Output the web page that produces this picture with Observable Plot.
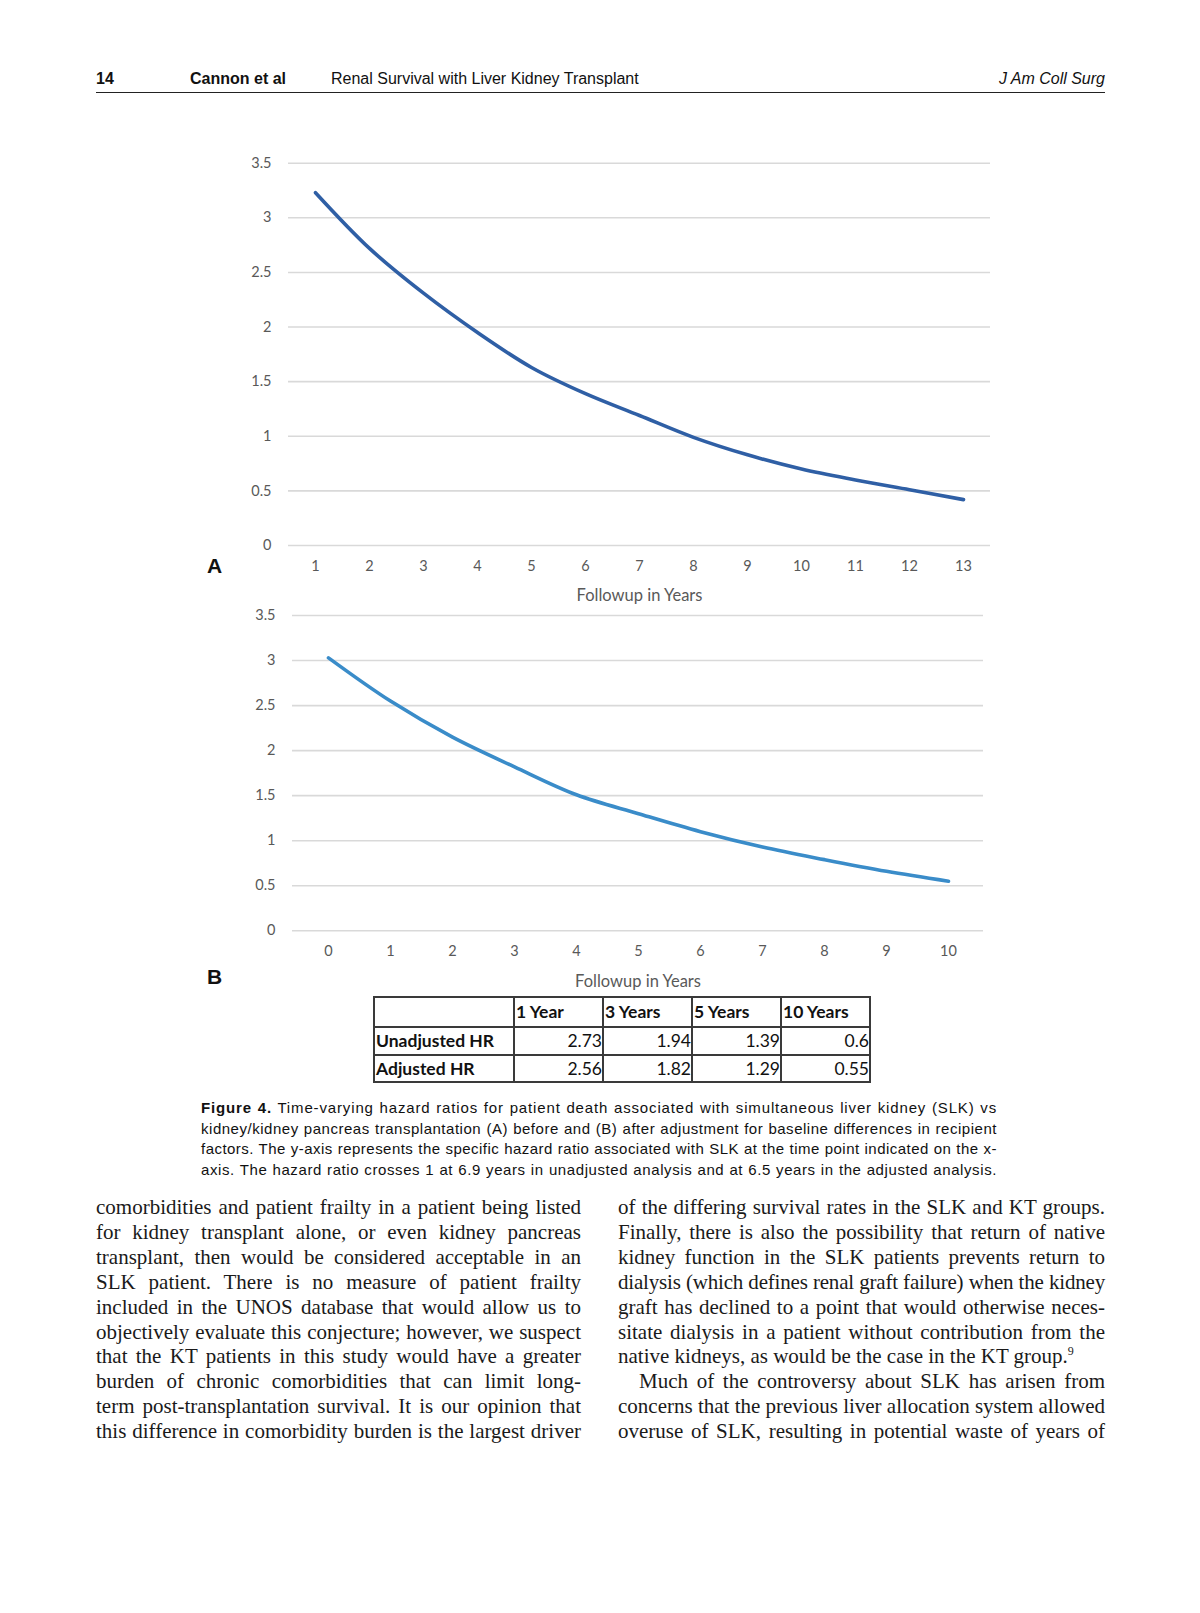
<!DOCTYPE html>
<html>
<head>
<meta charset="utf-8">
<script src="https://cdn.jsdelivr.net/npm/d3@7"></script>
<script src="https://cdn.jsdelivr.net/npm/@observablehq/plot@0.6"></script>
<style>
  html, body { margin: 0; padding: 0; background: #fff; }
  body { position: relative; width: 1200px; height: 1613px; overflow: hidden; }
  .abs { position: absolute; }
  .hdr { font-family: "Liberation Sans Narrow", "Liberation Sans", Arial, sans-serif; font-size: 16px; color: #111; top: 68px; line-height: 22px; white-space: nowrap; }
  .panel { font-family: "Liberation Sans", Arial, sans-serif; font-weight: bold; font-size: 21px; color: #111; }
  .cap { font-family: "Liberation Sans", Arial, sans-serif; font-size: 15px; color: #111; line-height: 20.6px; }
  .cap div, .col div { text-align: justify; text-align-last: justify; white-space: nowrap; }
  .col { font-family: "Liberation Serif", "Times New Roman", serif; font-size: 21px; color: #1a1a1a; line-height: 24.9px; }
  .col div.last { text-align-last: left; }
  table.hr { border-collapse: collapse; font-family: Lato, "Open Sans", sans-serif; font-size: 17.5px; color: #111; }
  table.hr td { border: 2px solid #3a3a3a; padding: 0 1px; line-height: 22px; }
  table.hr td.num { text-align: right; padding: 0; }
  table.hr td.lab { font-weight: bold; text-align: left; }
</style>
</head>
<body>
<div id="page"></div>
<script>
// ---- data ----
const yearsA = [1, 2, 3, 4, 5, 6, 7, 8, 9, 10, 11, 12, 13];
const hrA = [3.23, 2.72, 2.31, 1.95, 1.63, 1.39, 1.19, 0.99, 0.83, 0.70, 0.60, 0.51, 0.42];
const yearsB = [0, 1, 2, 3, 4, 5, 6, 7, 8, 9, 10];
const hrB = [3.03, 2.55, 2.15, 1.82, 1.51, 1.30, 1.10, 0.93, 0.79, 0.66, 0.55];
const yTicks = [0, 0.5, 1, 1.5, 2, 2.5, 3, 3.5];
const xLabel = "Followup in Years";
const tableCols = ["1 Year", "3 Years", "5 Years", "10 Years"];
const tableRows = ["Unadjusted HR", "Adjusted HR"];
const unadjustedHR = ["2.73", "1.94", "1.39", "0.6"];
const adjustedHR = ["2.56", "1.82", "1.29", "0.55"];

const page = document.getElementById("page");

function add(html, cls, style) {
  const d = document.createElement("div");
  d.className = "abs " + (cls || "");
  d.setAttribute("style", style || "");
  d.innerHTML = html;
  page.appendChild(d);
  return d;
}

// ---- header ----
add("<b>14</b>", "hdr", "left:96px;");
add("<b>Cannon et al</b>", "hdr", "left:190px;");
add("Renal Survival with Liver Kidney Transplant", "hdr", "left:331px;");
add("<i>J Am Coll Surg</i>", "hdr", "right:95px;");
add("", "", "left:96px;top:92px;width:1009px;height:0;border-top:1.6px solid #222;");

// ---- charts ----
function chart(years, hr, color, opts) {
  const data = years.map((y, i) => ({year: y, hr: hr[i]}));
  const svg = Plot.plot({
    width: 1200,
    height: opts.height,
    marginTop: opts.mt,
    marginBottom: opts.mb,
    marginLeft: opts.ml,
    marginRight: opts.mr,
    x: {type: "point", domain: years, padding: 0.5},
    y: {domain: [0, 3.5]},
    style: {fontFamily: "Lato, 'Open Sans', sans-serif", fontSize: "14.5px", color: "#595959", background: "transparent"},
    marks: [
      Plot.ruleY(yTicks, {stroke: "#d9d9d9", strokeWidth: 1.6}),
      Plot.axisY({ticks: yTicks, tickSize: 0, tickPadding: 17, tickFormat: d3.format("~g"), label: null, fill: "#595959"}),
      Plot.axisX({tickSize: 0, tickPadding: 15, label: null, fill: "#595959"}),
      Plot.line(data, {x: "year", y: "hr", stroke: color, strokeWidth: 3.6, curve: "catmull-rom"}),
      Plot.text([xLabel], {text: d => d, frameAnchor: "bottom", dy: opts.labelDy, fontSize: 16.5, fill: "#595959"})
    ]
  });
  svg.style.position = "absolute";
  svg.style.left = "0px";
  svg.style.top = opts.top + "px";
  page.appendChild(svg);
}

chart(yearsA, hrA, "#2f5fa5", {top: 130, height: 480, mt: 32.7, mb: 65, ml: 288, mr: 210, labelDy: 55});
chart(yearsB, hrB, "#3a8cc9", {top: 605, height: 395, mt: 10, mb: 69.7, ml: 292, mr: 217, labelDy: 56});

add("A", "panel", "left:207px;top:554px;");
add("B", "panel", "left:207px;top:965px;");

// ---- table ----
let t = '<table class="hr"><tr style="height:30px"><td style="width:136px"></td>';
tableCols.forEach(c => { t += '<td class="lab" style="width:85px">' + c + '</td>'; });
t += '</tr>';
[[tableRows[0], unadjustedHR], [tableRows[1], adjustedHR]].forEach(([lab, vals], r) => {
  t += '<tr style="height:' + (r === 0 ? 28 : 27) + 'px"><td class="lab">' + lab + '</td>';
  vals.forEach(v => { t += '<td class="num">' + v + '</td>'; });
  t += '</tr>';
});
t += '</table>';
add(t, "", "left:373px;top:996px;");

// ---- caption ----
const capLines = [
  "<b>Figure 4.</b> Time-varying hazard ratios for patient death associated with simultaneous liver kidney (SLK) vs",
  "kidney/kidney pancreas transplantation (A) before and (B) after adjustment for baseline differences in recipient",
  "factors. The y-axis represents the specific hazard ratio associated with SLK at the time point indicated on the x-",
  "axis. The hazard ratio crosses 1 at 6.9 years in unadjusted analysis and at 6.5 years in the adjusted analysis."
];
add(capLines.map(l => "<div>" + l + "</div>").join(""), "cap", "left:201px;top:1098px;width:796px;");

// ---- body text ----
const leftCol = [
  "comorbidities and patient frailty in a patient being listed",
  "for kidney transplant alone, or even kidney pancreas",
  "transplant, then would be considered acceptable in an",
  "SLK patient. There is no measure of patient frailty",
  "included in the UNOS database that would allow us to",
  "objectively evaluate this conjecture; however, we suspect",
  "that the KT patients in this study would have a greater",
  "burden of chronic comorbidities that can limit long-",
  "term post-transplantation survival. It is our opinion that",
  "this difference in comorbidity burden is the largest driver"
];
const rightCol = [
  "of the differing survival rates in the SLK and KT groups.",
  "Finally, there is also the possibility that return of native",
  "kidney function in the SLK patients prevents return to",
  "dialysis (which defines renal graft failure) when the kidney",
  "graft has declined to a point that would otherwise neces-",
  "sitate dialysis in a patient without contribution from the",
  "native kidneys, as would be the case in the KT group.<sup style=\"font-size:12px;line-height:0;\">9</sup>",
  "Much of the controversy about SLK has arisen from",
  "concerns that the previous liver allocation system allowed",
  "overuse of SLK, resulting in potential waste of years of"
];
add(leftCol.map(l => "<div>" + l + "</div>").join(""), "col", "left:96px;top:1195px;width:485px;");
add(rightCol.map((l, i) => {
  if (i === 6) return '<div class="last">' + l + '</div>';
  if (i === 7) return '<div style="padding-left:21px">' + l + '</div>';
  return "<div>" + l + "</div>";
}).join(""), "col", "left:618px;top:1195px;width:487px;");

// adjust letter-spacing: body lines only shrink; caption lines spread evenly to fill
function fitLines() {
  document.querySelectorAll(".cap div, .col div").forEach(div => {
    div.style.letterSpacing = "";
    const isCap = div.parentNode.classList.contains("cap");
    const span = document.createElement("span");
    span.innerHTML = div.innerHTML;
    span.style.whiteSpace = "nowrap";
    span.style.visibility = "hidden";
    span.style.position = "absolute";
    div.parentNode.appendChild(span);
    const natural = span.getBoundingClientRect().width;
    span.remove();
    const pad = parseFloat(getComputedStyle(div).paddingLeft) || 0;
    const avail = div.clientWidth - pad;
    const n = div.textContent.length;
    if (isCap) {
      div.style.letterSpacing = ((avail - natural) / n * 0.9).toFixed(3) + "px";
    } else if (natural > avail) {
      div.style.letterSpacing = ((avail - natural) / n - 0.02).toFixed(3) + "px";
    }
  });
}
fitLines();
if (document.fonts && document.fonts.ready) document.fonts.ready.then(fitLines);
</script>
</body>
</html>
